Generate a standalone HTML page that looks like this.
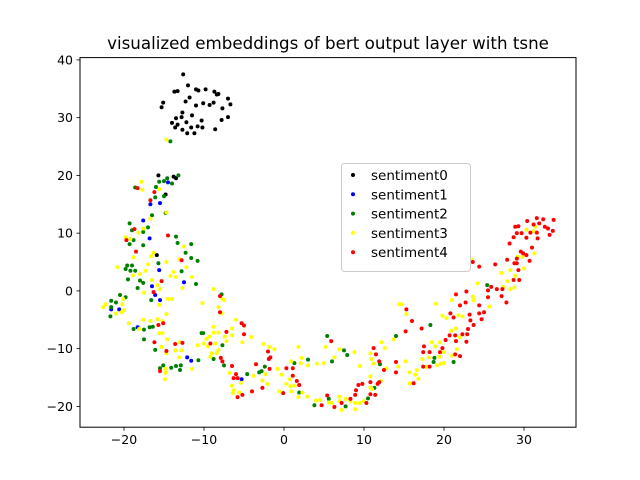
<!DOCTYPE html>
<html><head><meta charset="utf-8"><style>
body{margin:0;background:#fff}
svg{display:block;font-family:"DejaVu Sans","Liberation Sans",sans-serif}
</style></head><body>
<svg id="chart" width="640" height="480">
<rect width="640" height="480" fill="#fff"/>
<text x="328" y="49" text-anchor="middle" font-size="16.7">visualized embeddings of bert output layer with tsne</text>
<g id="marks"></g>
<rect x="80" y="57.6" width="496" height="369.6" fill="none" stroke="#000" stroke-width="1"/>
<g id="axes"></g>
<g id="legend"></g>
</svg>
<script>
const xTicks=[-20,-10,0,10,20,30];
const yTicks=[-20,-10,0,10,20,30,40];
const seriesNames=["sentiment0","sentiment1","sentiment2","sentiment3","sentiment4"];
const seriesColors=["#000000","#0000ff","#008000","#ffff00","#ff0000"];
const s0x=[-12.6,-12.0,-13.7,-13.3,-11.0,-10.7,-9.8,-8.7,-8.4,-8.2,-7.0,-6.7,-15.1,-15.3,-11.8,-12.3,-11.0,-10.1,-9.3,-8.8,-7.7,-7.8,-7.0,-12.7,-11.5,-12.8,-13.5,-10.3,-12.2,-14.0,-13.3,-11.6,-10.8,-10.2,-13.6,-12.7,-8.6,-12.1,-11.2,-15.7,-13.8,-13.5,-14.8,-15.9];
const s0y=[37.5,35.6,34.5,34.6,34.9,34.7,34.9,34.5,34.0,34.1,33.3,32.3,32.6,31.8,33.5,32.8,32.1,32.5,32.2,32.6,31.6,29.6,30.1,30.9,30.4,30.1,29.9,29.5,29.2,29.1,28.8,28.3,28.5,28.3,28.3,27.9,28.0,27.3,27.3,20.0,19.8,19.5,16.7,6.2];
const s1x=[-14.5,-16.7,-15.5,-17.6,-16.8,-15.6,-16.5,-16.1,-15.5,-12.5,-21.6,-20.6,-18.3,-12.1,-11.6,-5.3];
const s1y=[18.8,15.0,15.2,12.2,9.1,3.6,0.8,-0.7,-1.6,1.5,-3.2,-3.2,-6.3,-11.5,-12.1,-15.3];
const s2x=[-14.2,-13.2,-14.6,-15.0,-15.6,-16.0,-14.0,-18.6,-16.1,-15.0,-16.5,-14.8,-19.3,-19.0,-18.8,-19.3,-17.6,-17.0,-17.6,-13.5,-13.3,-11.6,-12.3,-11.6,-10.8,-12.8,-15.7,-19.6,-19.0,-19.8,-19.2,-18.6,-19.5,-18.0,-17.6,-18.3,-11.0,-16.6,-20.5,-19.8,-21.6,-21.0,-21.6,-21.7,-7.8,-18.8,-17.5,-16.8,-16.4,-17.5,-16.1,-10.3,-10.1,-7.7,-8.8,-7.5,-10.7,-15.1,-14.1,-13.5,-12.9,-13.0,-15.5,-4.6,-3.1,-2.8,-2.4,1.3,3.0,1.9,25.4,18.3,14.0,5.4,7.5,7.9,6.0,12.0,18.8,18.7,21.2,5.6,3.8,7.7,10.5,11.3];
const s2y=[25.9,20.0,19.5,19.0,18.9,18.0,18.6,17.9,16.2,16.4,13.1,13.5,11.7,10.5,8.8,8.1,10.2,11.0,7.9,9.4,8.3,8.1,6.6,5.7,5.2,3.4,4.8,4.4,4.4,3.8,3.5,3.5,2.0,1.8,1.4,0.5,1.2,-1.6,-0.7,-1.1,-1.7,-2.0,-2.8,-4.4,-0.6,-6.6,-6.7,-6.3,-6.2,-8.4,-10.2,-7.3,-7.3,-9.4,-11.8,-12.9,-12.0,-12.9,-13.3,-13.0,-12.9,-13.7,-13.4,-14.4,-14.1,-13.9,-13.1,-12.5,-11.9,-17.6,1.0,-5.9,-7.8,-7.8,-10.3,-11.1,-12.2,-12.7,-11.6,-12.3,-12.3,-18.7,-19.8,-20.0,-18.6,-16.8];
const s3x=[-14.7,-17.8,-17.7,-15.6,-14.7,-16.7,-19.8,-17.6,-18.2,-19.2,-12.5,-16.3,-16.6,-18.8,-14.7,-17.0,-13.1,-12.2,-20.8,-17.3,-18.0,-18.9,-13.8,-14.2,-13.5,-11.5,-16.5,-15.8,-15.5,-17.5,-12.7,-8.8,-14.5,-14.0,-10.2,-15.6,-20.1,-20.2,-22.3,-22.6,-21.0,-20.3,-20.0,-14.7,-19.4,-17.6,-16.7,-15.8,-15.2,-18.1,-15.6,-15.2,-14.6,-13.0,-15.3,-13.6,-12.8,-14.7,-13.1,-11.5,-14.8,-14.9,-14.8,-7.7,-7.5,-8.2,-7.8,-6.0,-6.5,-6.5,-8.8,-8.2,-8.8,-9.3,-9.7,-10.8,-10.0,-9.5,-8.6,-9.0,-8.4,-8.2,-9.2,-7.2,-7.4,-4.1,-5.2,-2.6,-1.8,-1.2,-6.8,-6.5,-6.3,-6.4,-5.6,-5.4,-3.8,-2.7,-2.1,-2.3,-0.8,-0.3,0.9,1.8,0.7,0.3,0.8,1.3,-0.6,0.9,1.8,23.5,24.2,23.6,23.7,25.7,27.2,27.4,27.9,28.3,28.8,28.9,28.3,29.2,29.8,30.0,31.3,30.3,31.2,31.4,19.0,21.0,19.8,20.3,21.8,22.3,20.9,21.5,22.0,21.0,21.6,19.5,18.9,20.0,19.4,19.1,19.6,20.0,18.1,18.5,17.3,16.6,16.4,16.8,15.7,15.7,17.8,14.4,14.7,15.3,13.7,15.2,14.3,12.8,12.2,12.6,10.8,10.9,11.2,9.5,8.8,6.9,6.3,5.2,5.0,4.1,3.0,2.2,2.1,2.3,2.9,4.0,4.5,5.6,6.9,7.0,7.7,8.3,8.9,9.5,8.9,7.2,6.0,10.0,10.8,11.0,12.1,10.8];
const s3y=[26.2,18.9,17.5,17.6,13.6,12.5,9.3,10.8,10.1,9.0,7.7,6.6,6.0,5.8,5.0,4.6,5.5,4.1,4.1,3.5,2.9,2.7,3.3,2.6,2.4,2.4,1.9,1.0,0.3,-0.3,0.5,0.3,-1.4,-1.4,-2.1,-2.4,-1.4,-2.3,-2.3,-2.8,-3.9,-3.7,-3.3,-4.0,-5.6,-5.0,-5.2,-4.9,-5.2,-6.6,-7.3,-7.3,-8.4,-8.9,-9.7,-10.3,-10.3,-10.8,-11.5,-13.5,-14.2,-15.3,-13.5,-1.4,-1.6,-2.8,-3.9,-5.0,-6.5,-7.7,-6.2,-7.2,-7.2,-7.9,-8.3,-9.4,-9.1,-9.6,-9.1,-10.8,-10.8,-10.2,-11.4,-8.7,-7.9,-8.0,-8.9,-9.2,-9.7,-10.1,-14.2,-16.4,-17.2,-17.7,-17.6,-15.9,-14.7,-15.5,-16.1,-14.4,-13.5,-14.5,-12.2,-9.7,-15.3,-16.1,-16.5,-16.4,-17.4,-17.4,-18.4,5.4,1.3,-1.0,-1.6,-2.7,3.1,0.7,1.7,0.3,0.6,2.6,3.6,5.9,5.9,3.9,6.5,10.6,10.3,11.1,-2.2,-1.6,-4.3,-4.7,-4.2,-4.4,-6.9,-6.5,-8.0,-11.2,-10.1,-8.9,-9.6,-10.6,-11.4,-12.9,-12.6,-12.5,-11.5,-8.9,-11.8,-13.7,-14.5,-15.2,-14.1,-16.0,-13.2,-2.3,-2.3,-4.0,-8.4,-12.2,-13.1,-13.4,-8.9,-9.9,-10.8,-11.8,-12.6,-13.0,-10.6,-10.1,-11.5,-9.7,-12.5,-12.6,-12.9,-11.6,-12.5,-17.6,-18.3,-19.0,-18.9,-19.3,-18.3,-19.1,-18.7,-19.1,-19.4,-19.4,-20.5,-20.6,-19.4,-19.1,-14.8,-17.0,-15.6,-16.7];
const s4x=[-18.3,-16.2,-16.7,-18.7,-19.7,-18.5,-14.5,-12.8,-15.3,-16.3,-8.0,-8.0,-15.7,-15.1,-16.2,-14.7,-15.5,-13.6,-12.7,-9.2,-7.2,-5.3,-5.0,-5.0,-7.9,-7.7,-6.5,-6.0,-6.3,-5.8,-5.8,-5.2,-4.0,-2.7,-3.5,-2.0,-1.7,-1.9,-1.8,0.3,1.1,1.1,1.6,1.9,-0.1,5.9,5.4,4.7,6.3,7.2,8.3,8.9,9.3,9.8,9.0,10.3,10.8,11.4,10.8,11.2,11.5,11.9,11.7,11.9,12.5,14.0,14.0,15.2,15.3,16.0,17.2,16.2,17.5,17.4,17.4,18.2,18.2,19.5,19.8,20.2,20.7,21.4,21.4,22.0,22.3,22.8,22.9,21.5,20.8,21.2,21.5,22.0,22.7,22.8,23.6,24.4,23.2,23.3,23.0,23.7,24.4,24.4,24.7,25.0,25.5,25.9,25.5,26.4,26.6,27.3,27.2,27.8,27.9,28.2,28.7,28.8,29.1,29.3,29.4,28.7,29.1,29.6,29.9,30.3,30.7,31.0,31.7,31.6,30.3,29.7,29.1,28.9,29.3,30.4,31.2,31.6,31.9,32.4,32.6,33.0,33.2,33.6,33.7,30.8];
const s4y=[17.8,17.1,15.7,10.7,8.8,6.8,9.6,5.3,1.7,-0.2,-0.9,-3.7,-5.9,-5.6,-8.9,-10.4,-13.9,-9.2,-9.0,-9.1,-7.1,-5.6,-6.0,-7.5,-11.6,-12.2,-13.0,-14.4,-15.1,-15.1,-18.4,-18.0,-17.4,-16.8,-12.7,-10.5,-11.5,-11.8,-13.5,-13.4,-13.4,-14.7,-15.6,-16.3,-17.7,-8.7,-18.1,-19.8,-20.1,-19.4,-18.7,-18.0,-16.3,-16.1,-17.2,-19.4,-17.9,-18.0,-15.8,-9.9,-11.0,-12.2,-16.1,-15.8,-13.7,-12.3,-14.1,-7.0,-3.2,-5.2,-6.5,-16.0,-9.6,-10.6,-13.1,-10.6,-13.1,-10.6,-9.9,-8.5,-7.7,-7.7,-11.0,-11.3,-7.5,-8.8,-7.5,-8.7,-3.9,-4.6,-0.6,-2.5,-2.0,-0.1,5.0,4.2,-4.1,-5.1,-6.6,-5.9,-2.5,-3.9,-4.9,-3.7,-1.1,0.7,0.1,4.6,0.3,0.3,-0.9,-2.0,5.4,8.2,9.3,4.8,4.8,3.6,1.9,1.9,5.6,6.8,6.5,6.2,5.2,7.5,9.1,10.1,9.2,10.0,10.0,11.1,11.2,12.1,11.5,12.6,11.7,12.4,11.1,10.8,9.7,10.4,12.3,10.1];
const allX=[s0x,s1x,s2x,s3x,s4x];
const allY=[s0y,s1y,s2y,s3y,s4y];

const L=80,T=57.6,W=496,H=369.6,xmin=-25.5,xmax=36.5,ymin=-23.6,ymax=40.4;
function sx(v){return L+(v-xmin)/(xmax-xmin)*W;}
function sy(v){return T+H-(v-ymin)/(ymax-ymin)*H;}
const NS="http://www.w3.org/2000/svg";
function mk(tag,attrs,parent){const e=document.createElementNS(NS,tag);for(const k in attrs)e.setAttribute(k,attrs[k]);parent.appendChild(e);return e;}
const marks=document.getElementById('marks');
allX.forEach((xs,si)=>{
  const g=mk('g',{},marks);
  
  
  xs.forEach((xv,i)=>{
    const c=mk('circle',{cx:sx(xv),cy:sy(allY[si][i]),r:2,fill:seriesColors[si]},g);
    
    
  });
});
const axes=document.getElementById('axes');
xTicks.forEach(t=>{
  const x=sx(t);
  const ln=mk('line',{x1:x,x2:x,y1:T+H,y2:T+H+3.5,stroke:'#000','stroke-width':0.8},axes);
  
  
  const tx=mk('text',{x:x,y:T+H+17,'text-anchor':'middle','font-size':12.5},axes);
  tx.textContent=(t<0?'\u2212'+(-t):t);
  
  
});
yTicks.forEach(t=>{
  const y=sy(t);
  const ln=mk('line',{x1:L-3.5,x2:L,y1:y,y2:y,stroke:'#000','stroke-width':0.8},axes);
  
  
  const tx=mk('text',{x:L-7,y:y+4.5,'text-anchor':'end','font-size':12.5},axes);
  tx.textContent=(t<0?'\u2212'+(-t):t);
  
  
});
const lg=document.getElementById('legend');
mk('rect',{x:341.5,y:163.5,width:129,height:108,rx:3,fill:'#fff','fill-opacity':0.8,stroke:'#ccc'},lg);
seriesNames.forEach((n,i)=>{
  const y=175+i*19.3;
  const c=mk('circle',{cx:353,cy:y,r:2,fill:seriesColors[i]},lg);
  
  
  const t=mk('text',{x:371,y:y+5,'font-size':13.5},lg);
  t.textContent=n;
  
  
});
</script>
</body></html>
